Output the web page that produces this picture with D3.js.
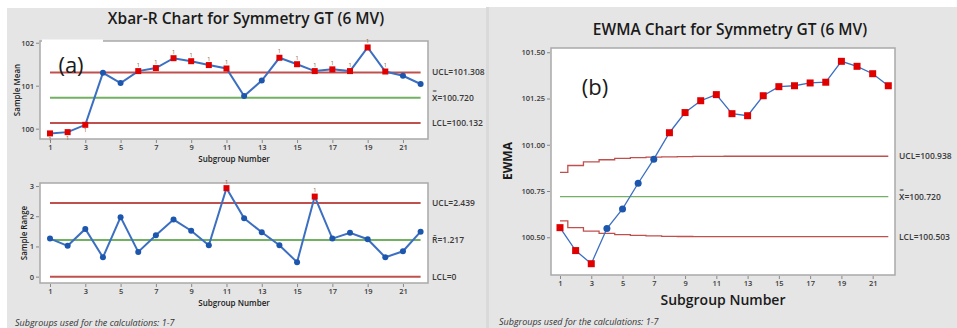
<!DOCTYPE html>
<html><head><meta charset="utf-8">
<script src="https://cdn.jsdelivr.net/npm/d3@7"></script>
<style>
html,body{margin:0;padding:0;background:#fff;}
svg text{font-family:"Open Sans","Noto Sans","DejaVu Sans",sans-serif;}
</style></head>
<body>
<script>
// ---------- DATA ----------
const subgroups = d3.range(1, 23);
const sampleMeans = [99.89,99.92,100.09,101.30,101.06,101.34,101.41,101.64,101.57,101.48,101.40,100.76,101.12,101.65,101.50,101.34,101.38,101.34,101.89,101.33,101.23,101.04];
const sampleRanges = [1.26,1.02,1.58,0.64,1.97,0.82,1.37,1.89,1.52,1.04,2.93,1.93,1.47,1.04,0.48,2.65,1.26,1.45,1.24,0.64,0.84,1.49];
const ewmaValues = [100.552,100.428,100.357,100.547,100.653,100.792,100.922,101.065,101.174,101.238,101.271,101.168,101.157,101.265,101.314,101.319,101.334,101.338,101.451,101.424,101.384,101.319];
const ewmaUCL = [100.851,100.888,100.907,100.919,100.926,100.930,100.933,100.935,100.936,100.937,100.937,100.938,100.938,100.938,100.938,100.938,100.938,100.938,100.938,100.938,100.938,100.938];
const ewmaLCL = [100.589,100.552,100.533,100.521,100.514,100.510,100.507,100.505,100.504,100.503,100.503,100.503,100.503,100.503,100.503,100.503,100.503,100.503,100.503,100.503,100.503,100.503];
const meanLimits = {ucl:101.308, cl:100.720, lcl:100.132};
const rangeLimits = {ucl:2.439, cl:1.217, lcl:0};
const ewmaLimits = {ucl:100.938, cl:100.720, lcl:100.503};
const meanFlagged = [1,2,3,6,7,8,9,10,11,14,15,16,17,18,19,20];
const rangeFlagged = [11,16];
const ewmaFlagged = [1,2,3,8,9,10,11,12,13,14,15,16,17,18,19,20,21,22];
const xTicks = [1,3,5,7,9,11,13,15,17,19,21];
const meanTicks = [100,101,102];
const rangeTicks = [0,1,2,3];
const ewmaTicks = [100.50,100.75,101.00,101.25,101.50];

// ---------- STYLE ----------
const BG = "#e5e5e5", FRAME = "#a9a9a9", TXT = "#3a3a3a";
const LINE = "#3c6fc2", BLUE = "#1d56ad", RED = "#e00000";
const LIM = "#c0504d", CEN = "#72b062";

const svg = d3.select("body").append("svg").attr("width",957).attr("height",328);
svg.append("rect").attr("width",957).attr("height",328).attr("fill","#fff");
svg.append("rect").attr("x",7).attr("y",8).attr("width",479).attr("height",320).attr("fill",BG);
svg.append("rect").attr("x",486).attr("y",7).attr("width",3).attr("height",321).attr("fill","#d9d9d9");
svg.append("rect").attr("x",489).attr("y",7).attr("width",468).attr("height",321).attr("fill",BG);

function panel(opt){
  const g = svg.append("g");
  const {x0,x1,y0,y1} = opt.box;
  g.append("rect").attr("x",x0).attr("y",y0).attr("width",x1-x0).attr("height",y1-y0)
    .attr("fill","#fff").attr("stroke",FRAME).attr("stroke-width",1.5);
  const x = d3.scaleLinear().domain([1,22]).range(opt.xr);
  const y = d3.scaleLinear().domain(opt.yd).range([y1,y0]);
  const ax = d3.axisBottom(x).tickValues(xTicks).tickSize(3).tickPadding(2).tickFormat(d3.format("d"));
  const xa = g.append("g").attr("transform",`translate(0,${y1+1})`).call(ax);
  const ay = d3.axisLeft(y).tickValues(opt.yTicks).tickSize(3).tickPadding(2).tickFormat(opt.yFmt);
  const ya = g.append("g").attr("transform",`translate(${x0-1},0)`).call(ay);
  [xa,ya].forEach(a=>{
    a.select(".domain").remove();
    a.selectAll("line").attr("stroke","#888");
    a.selectAll("text").attr("fill",TXT).style("font-size",opt.tickFs+"px").style("font-weight",600);
  });
  const lw = opt.limW;
  if(opt.ucArr){
    const step = d3.line().x((d,i)=>x(i+1)).y(d=>y(d)).curve(d3.curveStep);
    g.append("path").attr("d",step(opt.ucArr)).attr("fill","none").attr("stroke",LIM).attr("stroke-width",lw);
    g.append("path").attr("d",step(opt.lcArr)).attr("fill","none").attr("stroke",LIM).attr("stroke-width",lw);
  } else {
    [opt.lim.ucl,opt.lim.lcl].forEach(v=>g.append("line").attr("x1",x(1)).attr("x2",x(22))
      .attr("y1",y(v)).attr("y2",y(v)).attr("stroke",LIM).attr("stroke-width",lw));
  }
  g.append("line").attr("x1",x(1)).attr("x2",x(22)).attr("y1",y(opt.lim.cl)).attr("y2",y(opt.lim.cl))
    .attr("stroke",CEN).attr("stroke-width",lw);
  const line = d3.line().x((d,i)=>x(i+1)).y(d=>y(d));
  g.append("path").attr("d",line(opt.data)).attr("fill","none").attr("stroke",LINE).attr("stroke-width",opt.lineW);
  opt.data.forEach((v,i)=>{
    const s = i+1;
    if(opt.flag.includes(s)){
      const h = opt.sq;
      g.append("rect").attr("x",x(s)-h/2).attr("y",y(v)-h/2).attr("width",h).attr("height",h).attr("fill",RED);
      if(opt.ones){
        const below = v < opt.lim.lcl;
        g.append("text").attr("x",x(s)).attr("y",below? y(v)+h/2+4.5 : y(v)-h/2-1.5)
          .attr("text-anchor","middle").attr("fill","#8a5a2a").style("font-size","5.5px").text("1");
      }
    } else {
      g.append("circle").attr("cx",x(s)).attr("cy",y(v)).attr("r",opt.r).attr("fill",BLUE);
    }
  });
  const lab = (v,t)=>g.append("text").attr("x",opt.labX).attr("y",y(v)+opt.labDy).attr("fill",TXT)
      .style("font-size",opt.labFs+"px").style("font-weight",600).text(t);
  lab(opt.lim.ucl,opt.labels[0]);
  lab(opt.lim.cl,opt.labels[1]);
  lab(opt.lim.lcl,opt.labels[2]);
  return {g,x,y};
}

panel({box:{x0:40,x1:428,y0:41,y1:139}, xr:[50,420.6], yd:[99.76,102.04],
  yTicks:meanTicks, yFmt:d3.format("d"), data:sampleMeans, flag:meanFlagged, lim:meanLimits,
  sq:6, r:3, lineW:2, limW:2, ones:true, tickFs:7.5, labX:432, labFs:8.5, labDy:3,
  labels:["UCL=101.308","X\u033F=100.720","LCL=100.132"]});
panel({box:{x0:40,x1:428,y0:183,y1:283}, xr:[50,420.6], yd:[-0.21,3.1],
  yTicks:rangeTicks, yFmt:d3.format("d"), data:sampleRanges, flag:rangeFlagged, lim:rangeLimits,
  sq:6, r:3, lineW:2, limW:2, ones:true, tickFs:7.5, labX:432, labFs:8.5, labDy:3,
  labels:["UCL=2.439","R\u0304=1.217","LCL=0"]});
panel({box:{x0:551,x1:895,y0:48,y1:275}, xr:[560,888.3], yd:[100.296,101.523],
  yTicks:ewmaTicks, yFmt:d3.format(".2f"), data:ewmaValues, flag:ewmaFlagged, lim:ewmaLimits,
  ucArr:ewmaUCL, lcArr:ewmaLCL,
  sq:7, r:3.5, lineW:1.3, limW:1.3, ones:false, tickFs:7.5, labX:899, labFs:8.5, labDy:3,
  labels:["UCL=100.938","X\u033F=100.720","LCL=100.503"]});

svg.append("rect").attr("x",42).attr("y",39.5).attr("width",61).attr("height",3).attr("fill","#fff");

const T = (x,y,t,fs,w,anchor,extra)=>{
  const e = svg.append("text").attr("x",x).attr("y",y).attr("fill","#1a1a1a")
    .attr("text-anchor",anchor||"middle").style("font-size",fs+"px").style("font-weight",w).text(t);
  if(extra) extra(e);
  return e;
};
T(246,24,"Xbar-R Chart for Symmetry GT (6 MV)",15.5,600);
T(730,35,"EWMA Chart for Symmetry GT (6 MV)",15.5,600);
T(71,73,"(a)",22,400);
T(595,95,"(b)",22,400);
T(234,162,"Subgroup Number",8,600);
T(234,306,"Subgroup Number",8,600);
T(723,305,"Subgroup Number",14,600);
T(0,0,"Sample Mean",8,600,"middle",e=>e.attr("transform","translate(20,90) rotate(-90)"));
T(0,0,"Sample Range",8,600,"middle",e=>e.attr("transform","translate(27,233) rotate(-90)"));
T(0,0,"EWMA",12,700,"middle",e=>e.attr("transform","translate(512,161) rotate(-90)"));
T(15,326,"Subgroups used for the calculations: 1-7",9,400,"start",e=>e.style("font-style","italic").attr("fill","#333"));
T(499,325,"Subgroups used for the calculations: 1-7",9,400,"start",e=>e.style("font-style","italic").attr("fill","#333"));
</script>
</body></html>
